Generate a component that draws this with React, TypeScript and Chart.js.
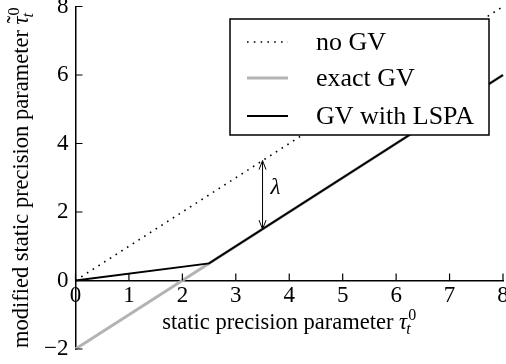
import { useEffect, useRef } from "react";
import { Chart, registerables } from "chart.js";

Chart.register(...registerables);

// ---- data ----
const seriesLabels = ["no GV", "exact GV", "GV with LSPA"];
const noGvX = [0, 8];
const noGvY = [0, 8];
const exactX = [0, 8];
const exactY = [-2, 6];
const lspaX = [0, 2.5, 8];
const lspaY = [0, 0.5, 6];
const xTickValues = [0, 1, 2, 3, 4, 5, 6, 7, 8];
const yTickValues = [-2, 0, 2, 4, 6, 8];
const lambdaX = 3.5;
const lambdaLow = 1.5;
const lambdaHigh = 3.5;
const lambdaLabelX = 3.74;
const lambdaLabelY = 2.7;
const xTitleText = "static precision parameter";
const yTitleText = "modified static precision parameter";

const FAMILY = "'Liberation Serif', 'Times New Roman', serif";
const TITLE_FS = 22.5;
const TICK_FS = 23;
const LEGEND_FS = 26;
const SUB_FS = 16;

const toPoints = (xs: number[], ys: number[]) => xs.map((x, i) => ({ x, y: ys[i] }));
const fmt = (v: number) => (v < 0 ? "\u2212" + Math.abs(v) : String(v));

function drawTau(ctx: CanvasRenderingContext2D, x: number, y: number, tilde: boolean) {
  ctx.font = `italic ${TITLE_FS}px ${FAMILY}`;
  const tw = ctx.measureText("\u03c4").width;
  ctx.fillText("\u03c4", x, y);
  if (tilde) {
    ctx.font = `${TITLE_FS}px ${FAMILY}`;
    const tlw = ctx.measureText("\u02dc").width;
    ctx.fillText("\u02dc", x + tw / 2 - tlw / 2 + 1, y - 5);
  }
  ctx.font = `italic ${SUB_FS}px ${FAMILY}`;
  ctx.fillText("t", x + tw - 1, y + 5);
  ctx.font = `${SUB_FS}px ${FAMILY}`;
  ctx.fillText("0", x + tw + 1, y - 9.5);
}

function measureTitle(ctx: CanvasRenderingContext2D, text: string) {
  ctx.font = `${TITLE_FS}px ${FAMILY}`;
  const mw = ctx.measureText(text + " ").width;
  ctx.font = `italic ${TITLE_FS}px ${FAMILY}`;
  const tw = ctx.measureText("\u03c4").width;
  ctx.font = `${SUB_FS}px ${FAMILY}`;
  const pw = ctx.measureText("0").width;
  return { mw, total: mw + tw + pw + 1 };
}

const decorPlugin = {
  id: "decor",
  afterDatasetsDraw(chart: any) {
    const { ctx, scales, chartArea } = chart;
    const xs = scales.x;
    const ys = scales.y;
    const x0 = xs.getPixelForValue(0);
    const y0 = ys.getPixelForValue(0);
    ctx.save();
    ctx.strokeStyle = "#000";
    ctx.fillStyle = "#000";
    ctx.lineWidth = 1.2;
    ctx.setLineDash([]);
    // inward ticks
    ctx.beginPath();
    for (const v of xTickValues) {
      const px = xs.getPixelForValue(v);
      ctx.moveTo(px, y0);
      ctx.lineTo(px, y0 - 7);
    }
    for (const v of yTickValues) {
      const py = ys.getPixelForValue(v);
      ctx.moveTo(x0, py);
      ctx.lineTo(x0 + 7, py);
    }
    ctx.stroke();

    // lambda arrow
    const ax = xs.getPixelForValue(lambdaX);
    const ay1 = ys.getPixelForValue(lambdaLow);
    const ay2 = ys.getPixelForValue(lambdaHigh);
    ctx.lineWidth = 1;
    ctx.beginPath();
    ctx.moveTo(ax, ay1);
    ctx.lineTo(ax, ay2);
    ctx.moveTo(ax - 3.5, ay2 + 9);
    ctx.lineTo(ax, ay2);
    ctx.lineTo(ax + 3.5, ay2 + 9);
    ctx.moveTo(ax - 3.5, ay1 - 9);
    ctx.lineTo(ax, ay1);
    ctx.lineTo(ax + 3.5, ay1 - 9);
    ctx.stroke();
    ctx.font = `italic ${TICK_FS}px ${FAMILY}`;
    ctx.textAlign = "center";
    ctx.textBaseline = "middle";
    ctx.fillText("\u03bb", xs.getPixelForValue(lambdaLabelX), ys.getPixelForValue(lambdaLabelY));

    // legend
    const bw = 259;
    const bh = 116;
    const bx = chartArea.right - 14 - bw;
    const by = chartArea.top + 12.5;
    ctx.fillStyle = "#fff";
    ctx.fillRect(bx, by, bw, bh);
    ctx.strokeStyle = "#000";
    ctx.lineWidth = 1.5;
    ctx.strokeRect(bx, by, bw, bh);
    const rows = [23, 59, 97];
    chart.data.datasets.forEach((ds: any, i: number) => {
      const ry = by + rows[i];
      ctx.beginPath();
      ctx.strokeStyle = ds.borderColor;
      ctx.lineWidth = ds.borderWidth;
      ctx.setLineDash(ds.borderDash || []);
      ctx.moveTo(bx + 17, ry);
      ctx.lineTo(bx + 58, ry);
      ctx.stroke();
      ctx.setLineDash([]);
      ctx.fillStyle = "#000";
      ctx.font = `${LEGEND_FS}px ${FAMILY}`;
      ctx.textAlign = "left";
      ctx.textBaseline = "middle";
      ctx.fillText(ds.label, bx + 86, ry + 1);
    });
    ctx.restore();
  },
  afterDraw(chart: any) {
    const { ctx, chartArea } = chart;
    ctx.save();
    ctx.fillStyle = "#000";
    ctx.textAlign = "left";
    ctx.textBaseline = "alphabetic";
    // x title
    const mx = measureTitle(ctx, xTitleText);
    const cx = (chartArea.left + chartArea.right) / 2;
    const sx = cx - mx.total / 2;
    ctx.font = `${TITLE_FS}px ${FAMILY}`;
    ctx.fillText(xTitleText + " ", sx, 329);
    drawTau(ctx, sx + mx.mw, 329, false);
    // y title
    const my = measureTitle(ctx, yTitleText);
    const cy = (chartArea.top + chartArea.bottom) / 2;
    ctx.translate(28, cy);
    ctx.rotate(-Math.PI / 2);
    const syy = -my.total / 2;
    ctx.font = `${TITLE_FS}px ${FAMILY}`;
    ctx.fillText(yTitleText + " ", syy, 0);
    drawTau(ctx, syy + my.mw, 0, true);
    ctx.restore();
  },
};

export default function App() {
  const ref = useRef<HTMLCanvasElement | null>(null);
  useEffect(() => {
    if (!ref.current) return;
    const chart = new Chart(ref.current, {
      type: "line",
      data: {
        datasets: [
          {
            label: seriesLabels[0],
            data: toPoints(noGvX, noGvY),
            borderColor: "#000",
            borderWidth: 1.6,
            borderDash: [1.6, 5.2],
            pointRadius: 0,
            fill: false,
            order: 1,
            clip: 6,
          },
          {
            label: seriesLabels[1],
            data: toPoints(exactX, exactY),
            borderColor: "#b3b3b3",
            borderWidth: 3,
            pointRadius: 0,
            fill: false,
            order: 2,
            clip: 6,
          },
          {
            label: seriesLabels[2],
            data: toPoints(lspaX, lspaY),
            borderColor: "#000",
            borderWidth: 2,
            pointRadius: 0,
            fill: false,
            order: 0,
            clip: 6,
          },
        ],
      },
      options: {
        animation: false,
        responsive: false,
        devicePixelRatio: 1,
        events: [],
        layout: { padding: { top: 6.5, right: 3, bottom: 15, left: 0.5 } },
        plugins: { legend: { display: false }, tooltip: { enabled: false } },
        scales: {
          x: {
            type: "linear",
            min: 0,
            max: 8,
            position: { y: 0 } as any,
            grid: { display: false, drawTicks: false },
            border: { display: true, color: "#000", width: 1.5 },
            ticks: {
              color: "#000",
              font: { size: TICK_FS, family: FAMILY },
              padding: 2,
              maxRotation: 0,
              autoSkip: false,
              callback: (v: any) => fmt(Number(v)),
            },
            afterBuildTicks: (s: any) => {
              s.ticks = xTickValues.map((v) => ({ value: v }));
            },
            afterFit: (s: any) => {
              s.paddingLeft = 0;
              s.paddingRight = 0;
            },
          },
          y: {
            type: "linear",
            min: -2,
            max: 8,
            position: "left",
            grid: { display: false, drawTicks: false },
            border: { display: true, color: "#000", width: 1.5 },
            ticks: {
              color: "#000",
              font: { size: TICK_FS, family: FAMILY },
              padding: 7,
              autoSkip: false,
              callback: (v: any) => fmt(Number(v)),
            },
            afterBuildTicks: (s: any) => {
              s.ticks = yTickValues.map((v) => ({ value: v }));
            },
            afterFit: (s: any) => {
              s.width = 75;
              s.paddingTop = 0;
              s.paddingBottom = 0;
            },
          },
        },
      },
      plugins: [decorPlugin],
    });
    return () => chart.destroy();
  }, []);
  return (
    <div style={{ position: "absolute", left: 0, top: 0, width: 506, height: 364, background: "#fff" }}>
      <canvas ref={ref} width={506} height={364} style={{ display: "block" }} />
    </div>
  );
}
